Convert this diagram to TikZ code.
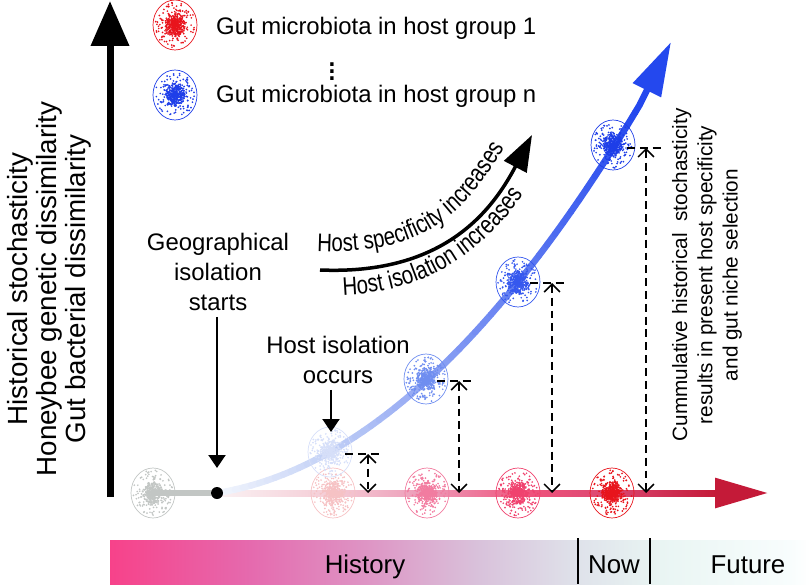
\documentclass[tikz,border=0pt]{standalone}
\usepackage{fontspec}
\setmainfont{Liberation Sans}
\newfontfamily\narrowfont[FakeStretch=0.8]{Liberation Sans}
\usetikzlibrary{arrows.meta,positioning,shapes.geometric,decorations.text}

% colours
\definecolor{axisred}{HTML}{C41A38}
\definecolor{grayC}{HTML}{C2C6C4}
\definecolor{pinkA}{HTML}{F6C2C4}
\definecolor{pinkB}{HTML}{F27CA0}
\definecolor{pinkC}{HTML}{F0426E}
\definecolor{redD}{HTML}{E8141C}
\definecolor{blueA}{HTML}{C4D2F6}
\definecolor{blueB}{HTML}{6F8EF0}
\definecolor{blueC}{HTML}{3558EE}
\definecolor{blueD}{HTML}{1E3EE8}
\definecolor{curveEnd}{HTML}{2448EE}
\definecolor{barA}{HTML}{F7428A}
\definecolor{barB}{HTML}{E56AAE}
\definecolor{barC}{HTML}{DE94C4}
\definecolor{barD}{HTML}{D9C2DB}
\definecolor{barE}{HTML}{DFE2EA}
\definecolor{barF}{HTML}{E9F5F3}
\definecolor{barG}{HTML}{F8FDFD}
\definecolor{redA}{HTML}{FAF0F2}
\definecolor{redB}{HTML}{F4CAD4}
\definecolor{redC}{HTML}{EC98B6}
\definecolor{redE}{HTML}{DA4670}

\pgfdeclarehorizontalshading{timebar}{100bp}{color(0bp)=(barA); color(25bp)=(barA);
  color(35bp)=(barB); color(43.2bp)=(barC); color(51.4bp)=(barD); color(58.4bp)=(barE);
  color(64.3bp)=(barF); color(73.6bp)=(barG); color(75bp)=(white); color(100bp)=(white)}
\pgfdeclarehorizontalshading{redline}{100bp}{color(0bp)=(redA); color(25bp)=(redA);
  color(36.6bp)=(redB); color(46bp)=(redC); color(56bp)=(pinkC!80!redC); color(64.6bp)=(redE);
  color(75bp)=(axisred); color(100bp)=(axisred)}

% one microbiota cluster: name, x, y, colour, seed
\newcommand{\microbes}[5]{%
  \node[microbe, draw=#4] (#1) at (#2,#3) {};
  \pgfmathsetseed{#5}
  \foreach \k in {1,...,520}{
    \pgfmathsetmacro{\ang}{360*rnd}
    \pgfmathsetmacro{\rad}{ifthenelse(\k<300, 0.5*rnd, rnd)}
    \fill[#4] ({#2+20*\rad*cos(\ang)},{#3+23*\rad*sin(\ang)}) circle[radius=0.95];
  }%
}

\begin{document}
\begin{tikzpicture}[x=0.02cm, y=-0.02cm,
    microbe/.style={ellipse, inner sep=0, minimum width=0.88cm, minimum height=1cm, line width=0.4pt},
    curve/.style={line width=0.13cm, line cap=round},
    dashline/.style={dashed, line width=0.9pt, dash pattern=on 4.5pt off 2.8pt},
    barb/.style={{Straight Barb[length=4.5pt,width=9pt]}-{Straight Barb[length=4.5pt,width=9pt]}},
    pointer/.style={line width=1.4pt, -{Triangle[length=7.4pt,width=9.6pt]}},
    label/.style={font=\fontsize{13.6}{17}\selectfont, align=center}]
  \useasboundingbox (0,0) rectangle (810,584);

  % Time bar
  \shade[shading=timebar] (110,540) rectangle (810,584);
  \coordinate (now1) at (578,538);
  \coordinate (now2) at (650,538);
  \draw[line width=1.4pt] (now1) -- (now1 |- 0,584);
  \draw[line width=1.4pt] (now2) -- (now2 |- 0,584);
  \node[anchor=base, font=\fontsize{14.7}{17}\selectfont] (hist) at (365,573) {History};
  \node[anchor=base, font=\fontsize{14.7}{17}\selectfont] (now) at (614,573) {Now};
  \node[anchor=base, font=\fontsize{14.7}{17}\selectfont] (fut) at (748,573) {Future};

  % Time axis
  \coordinate (xbase) at (714,493);
  \coordinate (xtip) at (768,493);
  \shade[shading=redline] (222,490) rectangle (716,496);
  \draw[axisred, line width=0.12cm, -{Triangle[length=1.06cm,width=0.58cm]}] (xbase) -- (xtip);

  % Blue curve
  \foreach \u [remember=\u as \w (initially 4)] in {10,18,...,114}{
    \pgfmathtruncatemacro{\p}{15+85*\u/114}
    \draw[curve, blueA!\p!white] ({217+\w},{493-16*\w/100-17.94*(\w/100)*(\w/100)})
      -- ({217+\u},{493-16*\u/100-17.94*(\u/100)*(\u/100)});
  }
  \foreach \u [remember=\u as \w (initially 114)] in {122,130,...,418,423}{
    \pgfmathtruncatemacro{\p}{(\u-114)/3.09}
    \draw[curve, curveEnd!\p!blueA] ({217+\w},{493-16*\w/100-17.94*(\w/100)*(\w/100)})
      -- ({217+\u},{493-16*\u/100-17.94*(\u/100)*(\u/100)});
  }
  \coordinate (bend) at (640,104);
  \coordinate (btip) at (671,42);
  \draw[curve, curveEnd, -{Triangle[length=1.08cm,width=0.6cm]}] (bend) -- (btip);

  % Clusters on the time axis
  \microbes{g0}{153}{493}{grayC}{11}
  \microbes{r1}{333}{493}{pinkA}{12}
  \microbes{r2}{427}{493}{pinkB}{13}
  \microbes{r3}{518}{493}{pinkC}{14}
  \microbes{r4}{612}{493}{redD}{15}
  \node[circle, fill, inner sep=0, minimum size=0.24cm] (start) at (217,493) {};
  \draw[grayC, line width=0.12cm] (g0.center) -- (start);

  % Clusters on the blue curve
  \microbes{b1}{330}{452}{blueA!70!white}{21}
  \microbes{b2}{426}{379}{blueB}{22}
  \microbes{b3}{518}{282}{blueC}{23}
  \microbes{b4}{613}{145}{blueD}{24}

  % Legend
  \microbes{lgred}{175}{25}{redD}{31}
  \microbes{lgblue}{175}{95}{blueD}{32}
  \node[anchor=base west, font=\fontsize{13.6}{16}\selectfont] (lg1) at (210,35) {Gut microbiota in host group 1};
  \node[font=\fontsize{20}{20}\selectfont, inner sep=0] (lgdots) at (332,66) {$\vdots$};
  \node[anchor=base west, font=\fontsize{13.6}{16}\selectfont] (lgn) at (210,103) {Gut microbiota in host group n};

  % Dissimilarity markers
  \foreach \i/\hx/\cy/\dx in {1/345/454/368, 2/437/381/459, 3/530/283/552, 4/627/148/646}{
    \coordinate (top\i) at (\dx,\cy);
    \coordinate (foot\i) at (\dx,493);
    \draw[dashline] (\hx,\cy) -- (\hx+38,\cy);
    \draw[dashline, barb] (top\i) -- (foot\i);
  }

  % Events
  \node[label] (geo) at (218,272) {Geographical\\isolation\\starts};
  \coordinate (geoend) at (217,468);
  \draw[pointer] (geo.south -| geoend) -- (geoend);
  \node[label] (hio) at (338,360) {Host isolation\\occurs};
  \coordinate (occ) at (331,432);
  \draw[pointer] (hio.south -| occ) -- (occ);

  % Trend arrow
  \coordinate (spec0) at (320,270);
  \coordinate (spec1) at (532,135);
  \draw[line width=0.07cm, -{Triangle[length=0.72cm,width=0.5cm]}] (spec0) .. controls (440,275) and (490,215) .. (spec1);
  \path[decorate, decoration={text along path,
      text={|\narrowfont\fontsize{14.5}{16}\selectfont|Host specificity increases}}]
    (317,251) .. controls (437,257) and (476,201) .. (516,126);
  \path[decorate, decoration={text along path, text align={left indent=0.46cm},
      text={|\narrowfont\fontsize{14.5}{16}\selectfont|Host isolation increases}}]
    (320,295) .. controls (442,300) and (508,233) .. (556,142);

  % Axis labels
  \coordinate (yfoot) at (110,497);
  \coordinate (ytip) at (110,1);
  \draw[line width=0.14cm, -{Triangle[length=0.9cm,width=0.74cm]}] (yfoot) -- (ytip);
  \node[rotate=90, align=center, font=\fontsize{15.8}{16.6}\selectfont] (ylab) at (49,289)
    {Historical stochasticity\\Honeybee genetic dissimilarity\\Gut bacterial dissimilarity};
  \node[rotate=90, align=center, font=\fontsize{11.8}{14.4}\selectfont] (summary) at (707,275)
    {Cummulative historical\ \ stochasticity\\results in present host specificity\\and gut niche selection};
\end{tikzpicture}
\end{document}
